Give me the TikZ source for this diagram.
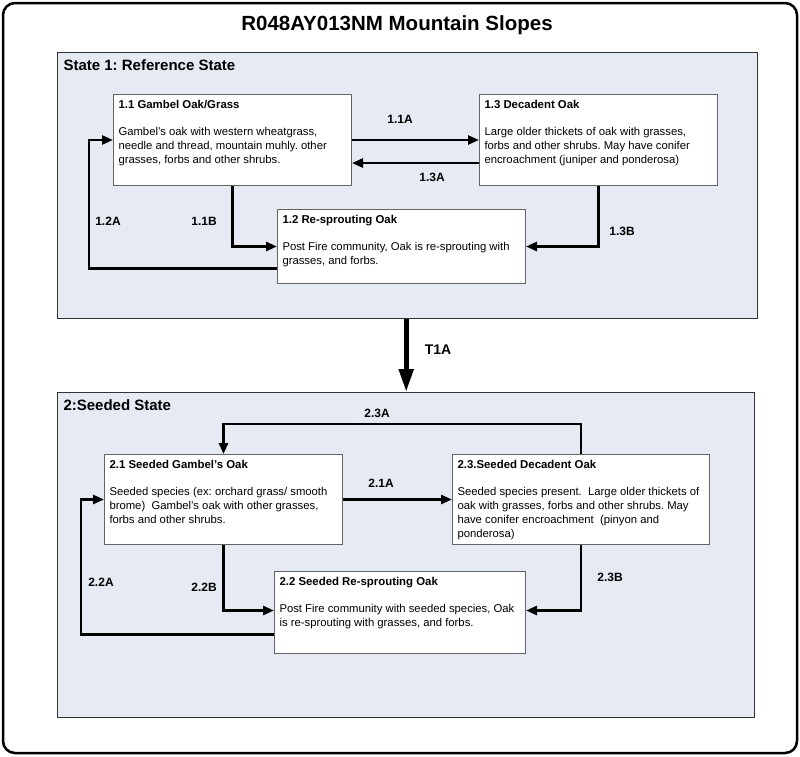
\documentclass[tikz,border=0pt]{standalone}
\usepackage{fontspec}
\setmainfont{Liberation Sans}
\usepackage{tikz}
\usepackage{xcolor}
\usetikzlibrary{arrows.meta}
\frenchspacing

\definecolor{statefill}{RGB}{230,235,243}
\definecolor{boxline}{RGB}{100,100,100}
\newcommand{\commtext}[4]{\begin{minipage}[t][#2][t]{#1}\raggedright{\fontsize{11.4}{14}\selectfont\bfseries #3}\\[13pt]#4\end{minipage}}

\begin{document}
\begin{tikzpicture}[x=1pt, y=-1pt,
        statebox/.style={draw=black!80, line width=1.4pt, fill=statefill, anchor=north west, inner sep=0pt},
        commbox/.style={draw=boxline, line width=1pt, fill=white, anchor=north west, inner xsep=5pt, inner ysep=6pt, font=\fontsize{11.3}{14}\selectfont},
        trans/.style={line width=2.6pt, -{Triangle[length=11pt, width=9pt]}},
        lbl/.style={font=\fontsize{12}{14}\selectfont\bfseries}]
        \useasboundingbox (0,0) rectangle (800,756);
        \draw[rounded corners=12pt, line width=2.5pt] (3,3) rectangle (797,753);
        \node[font=\fontsize{20.5}{24}\selectfont\bfseries] (title) at (397,25) {R048AY013NM Mountain Slopes};
        
        \node[statebox, minimum width=700pt, minimum height=266pt] (st1) at (57,52) {};
        \node[statebox, minimum width=697pt, minimum height=325pt] (st2) at (57,392) {};
        \node[font=\fontsize{15}{18}\selectfont\bfseries, anchor=west] (st1name) at (60,65) {State 1: Reference State};
        \node[font=\fontsize{15}{18}\selectfont\bfseries, anchor=west] (st2name) at (60,405) {2:Seeded State};
        
        \node[commbox] (c11) at (113,94) {\commtext{228pt}{79pt}{1.1 Gambel Oak/Grass}{Gambel's oak with western wheatgrass,\\ needle and thread, mountain muhly. other\\ grasses, forbs and other shrubs.}};
        \node[commbox] (c13) at (479,94) {\commtext{228pt}{79pt}{1.3 Decadent Oak}{Large older thickets of oak with grasses,\\ forbs and other shrubs. May have conifer\\ encroachment (juniper and ponderosa)}};
        \node[commbox] (c12) at (277,209) {\commtext{238pt}{62pt}{1.2 Re-sprouting Oak}{Post Fire community, Oak is re-sprouting with\\ grasses, and forbs.}};
        \node[commbox] (c21) at (104,454) {\commtext{228pt}{78pt}{2.1 Seeded Gambel's Oak}{Seeded species (ex: orchard grass/ smooth\\ brome)~ Gambel's oak with other grasses,\\ forbs and other shrubs.}};
        \node[commbox] (c23) at (452,454) {\commtext{247pt}{78pt}{2.3.Seeded Decadent Oak}{Seeded species present.~ Large older thickets of\\ oak with grasses, forbs and other shrubs. May\\ have conifer encroachment~ (pinyon and\\ ponderosa)}};
        \node[commbox] (c22) at (274,571) {\commtext{241pt}{70pt}{2.2 Seeded Re-sprouting Oak}{Post Fire community with seeded species, Oak\\ is re-sprouting with grasses, and forbs.}};
        
        \draw[trans] (c11.east) to (c13.west);
        \draw[trans] ([yshift=-23pt]c13.west) to ([yshift=-23pt]c11.east);
        \draw[trans] (c11.south) |- (c12.west);
        \draw[trans] ([yshift=-22pt]c12.west) -| ([xshift=-24pt]c11.west) to (c11.west);
        \draw[trans] (c13.south) |- (c12.east);
        
        \draw[line width=5pt, -{Triangle[length=23pt, width=14pt]}] (st1.south -| st2.north) to (st2.north);
        
        \draw[trans] (c21.east) to (c23.west);
        \draw[trans] (c21.south) |- ([yshift=2pt]c22.west);
        \draw[trans] ([yshift=-22pt]c22.west) -| ([xshift=-23pt]c21.west) to (c21.west);
        \draw[trans] (c23.south) |- ([yshift=2pt]c22.east);
        \draw[trans] (c23.north) to ++(0,-30) -| (c21.north);
        
        \node[lbl] (l11a) at (400,119) {1.1A};
        \node[lbl] (l13a) at (432,177) {1.3A};
        \node[lbl] (l11b) at (204,221) {1.1B};
        \node[lbl] (l12a) at (108,221) {1.2A};
        \node[lbl] (l13b) at (622,231) {1.3B};
        \node[lbl, font=\fontsize{14}{16}\selectfont\bfseries] (lt1a) at (438,350) {T1A};
        \node[lbl] (l23a) at (377,413) {2.3A};
        \node[lbl] (l21a) at (381,483) {2.1A};
        \node[lbl] (l22a) at (101,582) {2.2A};
        \node[lbl] (l22b) at (204,587) {2.2B};
        \node[lbl] (l23b) at (610,577) {2.3B};
    \end{tikzpicture}
\end{document}
